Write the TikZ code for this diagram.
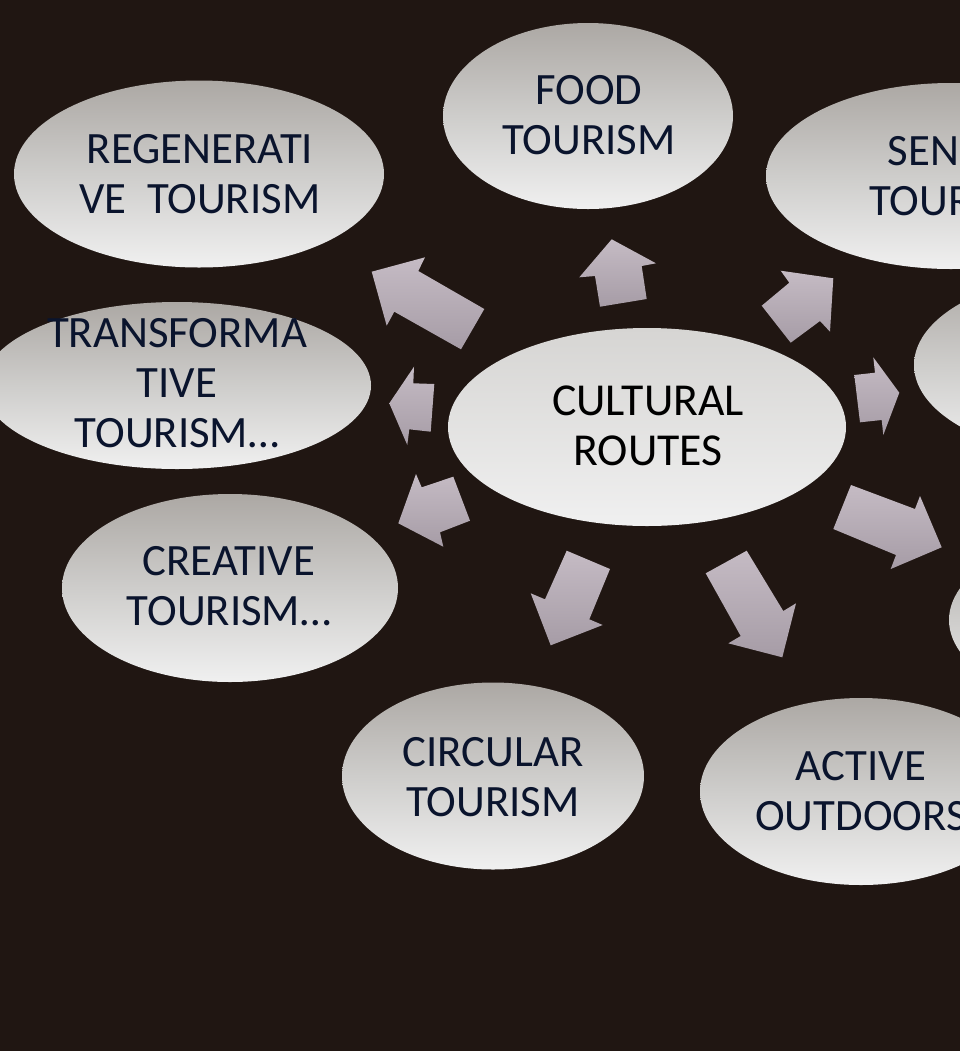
\documentclass[tikz,border=0pt]{standalone}
\usepackage{fontspec}
\setmainfont{Carlito}
\usetikzlibrary{shapes.geometric}
\definecolor{bg}{RGB}{32,22,18}
\definecolor{bubtop}{RGB}{172,168,164}
\definecolor{bubmid}{RGB}{206,205,203}
\definecolor{bubbot}{RGB}{240,240,240}
\definecolor{cenbot}{RGB}{240,240,240}
\definecolor{centop}{RGB}{214,213,211}
\definecolor{arrtop}{RGB}{197,187,196}
\definecolor{arrbot}{RGB}{166,156,166}
\definecolor{navy}{RGB}{10,20,45}
\begin{document}
\begin{tikzpicture}[x=0.75pt,y=-0.75pt,
  bubble/.style 2 args={ellipse, draw=none, inner sep=0pt,
    minimum width=#1*1.5pt, minimum height=#2*1.5pt,
    top color=bubtop, bottom color=bubbot, middle color=bubmid},
  centre/.style 2 args={ellipse, draw=none, inner sep=0pt,
    minimum width=#1*1.5pt, minimum height=#2*1.5pt,
    top color=centop, bottom color=cenbot},
  txt/.style={align=center, inner sep=0pt, text=navy,
    font=\fontsize{33.6}{37.5}\selectfont},
  ctxt/.style={align=center, inner sep=0pt, text=black,
    font=\fontsize{34.3}{37.5}\selectfont},
  barrow/.style={draw=none, top color=arrtop, bottom color=arrbot}]
\useasboundingbox (0,0) rectangle (960,1051);
\fill[bg] (0,0) rectangle (960,1051);
\clip (0,0) rectangle (960,1051);

% ellipses
\node[bubble={185}{93.5}] (regen) at (199,174) {};
\node[bubble={145}{93}] (food) at (588,116) {};
\node[bubble={185}{93}] (senior) at (951,176) {};
\node[bubble={185}{93}] (rmid) at (1099,365) {};
\node[bubble={185}{93}] (rbot) at (1134,620) {};
\node[bubble={194}{83.5}] (trans) at (177,385.5) {};
\node[bubble={168}{94}] (creative) at (230,588) {};
\node[centre={199}{99}] (cultural) at (647,427) {};
\node[bubble={151}{93.5}] (circular) at (493,776) {};
\node[bubble={161}{93.5}] (active) at (861,791.5) {};

% texts
\node[txt] (regen-t) at (200,174) {REGENERATI\\VE\ \ TOURISM};
\node[txt] (food-t) at (589,115) {FOOD\\TOURISM};
\node[txt] (senior-t) at (956,176) {SENIOR\\TOURISM};
\node[txt] (trans-t) at (177,383) {TRANSFORMA\\TIVE\\TOURISM…};
\node[txt] (creative-t) at (229,586) {CREATIVE\\TOURISM…};
\node[ctxt] (cultural-t) at (648,426) {CULTURAL\\ROUTES};
\node[txt] (circular-t) at (493,777) {CIRCULAR\\TOURISM};
\node[txt] (active-t) at (861,791.5) {ACTIVE\\OUTDOORS};

% block arrows
\path[barrow] (371.7,271.7) -- (425,257.3) -- (418.3,271) -- (484.3,309)
  -- (461,349.3) -- (394.3,311.7) -- (386.7,325.7) -- cycle;
\path[barrow] (611.7,239.3) -- (656,263.3) -- (641.7,266) -- (646.7,299)
  -- (600,306.7) -- (595,276) -- (579.3,277.3) -- cycle;
\path[barrow] (833.3,278.3) -- (830,331.7) -- (820,321) -- (790.7,342.7)
  -- (761.7,305.7) -- (789.3,282.7) -- (780.7,270.7) -- cycle;
\path[barrow] (389.3,403.3) -- (414,366.7) -- (413.3,383.3) -- (434.3,384)
  -- (430.7,431.7) -- (409.3,429.3) -- (407.3,445) -- cycle;
\path[barrow] (398.3,523.3) -- (416,474) -- (421.7,487.3) -- (453.3,476.7)
  -- (470,520.7) -- (440,532.3) -- (443.3,546.7) -- cycle;
\path[barrow] (899.3,392.7) -- (873.3,357.3) -- (875,372.7) -- (854.3,375)
  -- (860,422.3) -- (881.7,420) -- (883.3,435) -- cycle;
\path[barrow] (941.7,547.3) -- (920,496) -- (915,509) -- (851,485)
  -- (833.3,529) -- (896,555) -- (890.7,569) -- cycle;
\path[barrow] (550.7,645.3) -- (530.7,593.3) -- (545,599.3) -- (566.7,550.7)
  -- (610,569) -- (589.3,619.3) -- (602.7,625) -- cycle;
\path[barrow] (782.3,657.3) -- (796,603.3) -- (783.3,611) -- (746.7,550.7)
  -- (705.7,573.3) -- (740.7,636) -- (728.3,643.3) -- cycle;
\end{tikzpicture}
\end{document}
